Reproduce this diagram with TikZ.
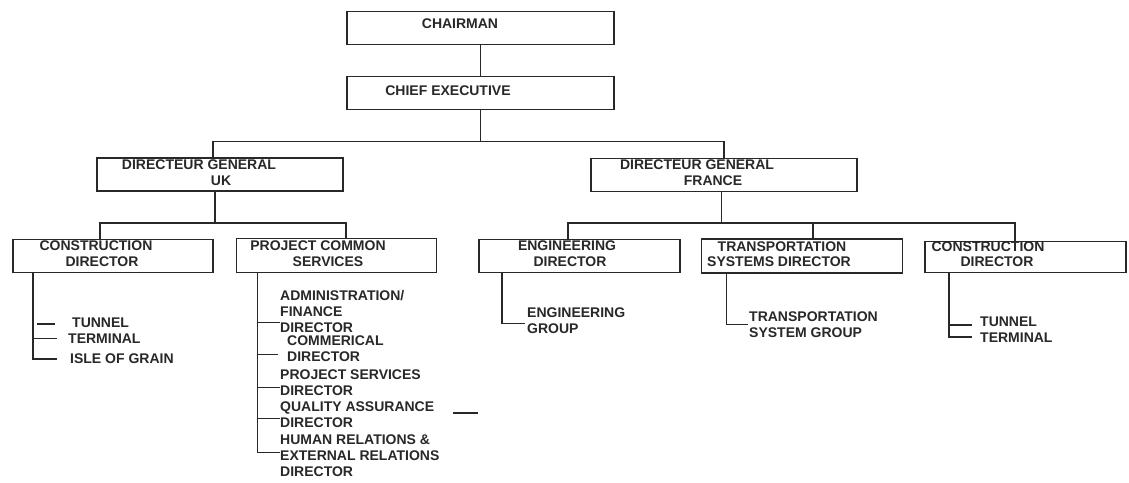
\documentclass[tikz,border=0pt]{standalone}
\usepackage{fontspec}
\setmainfont{Liberation Sans}
\usepackage{xcolor}
\usetikzlibrary{positioning, calc}
\definecolor{inkColor}{RGB}{40, 40, 40}
\newcommand{\orgfont}{\fontsize{14}{16}\selectfont\bfseries}

\begin{document}
\begin{tikzpicture}[x=1pt, y=-1pt,
    box/.style={draw=inkColor, line width=1.1pt, inner sep=0pt, outer sep=0pt, minimum height=33pt},
    lbl/.style={inner sep=0pt, text=inkColor, font=\orgfont, text height=10pt, text depth=0pt},
    item/.style={inner sep=0pt, text=inkColor, font=\orgfont, align=left, anchor=north west},
    wire/.style={draw=inkColor, line width=1.1pt}]
            \useasboundingbox (0,0) rectangle (1129,482);
            \fill[white] (0,0) rectangle (1129,482);

            % Top boxes
            \node[box, minimum width=267pt] at (480.5,28) (chair) {};
            \node[box, minimum width=267pt] at (480.5,93) (chief) {};
            \node[lbl] at (460,23.3) (chairT) {CHAIRMAN};
            \node[lbl] at (448,90.7) (chiefT) {CHIEF EXECUTIVE};

            % Directeur general boxes
            \node[box, minimum width=246pt] at (220,174.5) (dguk) {};
            \node[box, minimum width=266pt] at (724,175) (dgfr) {};
            \node[lbl] at (199,164) (dgukA) {DIRECTEUR GENERAL};
            \node[lbl] at (221,180) (dgukB) {UK};
            \node[lbl] at (697,164) (dgfrA) {DIRECTEUR GENERAL};
            \node[lbl] at (713,180) (dgfrB) {FRANCE};

            % Director boxes
            \node[box, minimum width=200pt] at (113,256) (consuk) {};
            \node[box, minimum width=200pt, minimum height=34pt] at (336.5,255.5) (pcs) {};
            \node[box, minimum width=201pt] at (579.5,256) (eng) {};
            \node[box, minimum width=201pt, minimum height=34pt] at (802,256) (trans) {};
            \node[box, minimum width=201pt, minimum height=31pt] at (1025.5,257) (consfr) {};
            \node[lbl] at (96,245) (consukA) {CONSTRUCTION};
            \node[lbl] at (102,261) (consukB) {DIRECTOR};
            \node[lbl] at (318,245) (pcsA) {PROJECT COMMON};
            \node[lbl] at (328,261.5) (pcsB) {SERVICES};
            \node[lbl] at (567,245) (engA) {ENGINEERING};
            \node[lbl] at (570,261.5) (engB) {DIRECTOR};
            \node[lbl] at (782,246) (transA) {TRANSPORTATION};
            \node[lbl] at (779,261.5) (transB) {SYSTEMS DIRECTOR};
            \node[lbl] at (988,246) (consfrA) {CONSTRUCTION};
            \node[lbl] at (997,261.5) (consfrB) {DIRECTOR};

            % Lines between boxes
            \coordinate (topbus) at (480.5,141.7);
            \draw[wire] (chair) -- (chief);
            \draw[wire] (chief) -- (topbus);
            \draw[wire] ([xshift=-7pt]dguk.north) |- (topbus) -| (dgfr.north);
            \coordinate (ukbus) at (215,223);
            \draw[wire] ([xshift=-5pt]dguk.south) -- (ukbus);
            \draw[wire] ([xshift=-13pt]consuk.north) |- (ukbus) -| ([xshift=9.5pt]pcs.north);
            \coordinate (frbus) at (721.7,223);
            \coordinate (transdrop) at (813,223);
            \draw[wire] ([xshift=-2.3pt]dgfr.south) -- (frbus);
            \draw[wire] ([xshift=-11.5pt]eng.north) |- (frbus) -| ([xshift=-10.5pt]consfr.north);
            \draw[wire] (trans.north -| transdrop) -- (transdrop);

            % UK construction items
            \node[lbl, anchor=west] at (72,322) (tunuk) {TUNNEL};
            \node[lbl, anchor=west] at (68,338.5) (termuk) {TERMINAL};
            \node[lbl, anchor=west] at (70,358) (isleuk) {ISLE OF GRAIN};
            \coordinate (consukv) at ([xshift=20pt]consuk.south west);
            \draw[wire] (consukv) |- ([xshift=-13pt,yshift=-1pt]isleuk.west);
            \draw[wire] (consukv) |- ([xshift=-11pt]termuk.west);
            \draw[wire] ([xshift=-35pt,yshift=-2pt]tunuk.west) -- ([xshift=-17pt,yshift=-2pt]tunuk.west);

            % Project common services items
            \node[item] at (280,290) (adm) {ADMINISTRATION/\\FINANCE\\DIRECTOR};
            \node[item] at (287,336) (com) {COMMERICAL\\DIRECTOR};
            \node[item] at (280,370) (psd) {PROJECT SERVICES\\DIRECTOR};
            \node[item] at (280,402) (qad) {QUALITY ASSURANCE\\DIRECTOR};
            \node[item] at (280,435) (hrd) {HUMAN RELATIONS \&\\EXTERNAL RELATIONS\\DIRECTOR};
            \coordinate (pcsv) at ([xshift=21pt]pcs.south west);
            \draw[wire] (pcsv) |- ([yshift=4pt]hrd.west);
            \foreach \n/\dx/\dy in {adm/0/10, com/-9/8, psd/0/9, qad/0/10}
                \draw[wire] (pcsv) |- ([xshift=\dx pt, yshift=\dy pt]\n.south west);
            \coordinate (qadmark) at (453,413);
            \draw[wire] (qadmark) -- ++(25pt,0);

            % Engineering and transportation items
            \node[item] at (527,308) (engg) {ENGINEERING\\GROUP};
            \draw[wire] ([xshift=23pt]eng.south west) |- ([xshift=-2pt,yshift=11pt]engg.south west);
            \node[item] at (749,312) (tsg) {TRANSPORTATION\\SYSTEM GROUP};
            \draw[wire] ([xshift=25pt]trans.south west) |- ([xshift=-1pt,yshift=14pt]tsg.south west);

            % France construction items
            \node[lbl, anchor=west] at (980,321) (tunfr) {TUNNEL};
            \node[lbl, anchor=west] at (980,337) (termfr) {TERMINAL};
            \coordinate (consfrv) at ([xshift=24pt]consfr.south west);
            \draw[wire] (consfrv) |- ([xshift=-8pt,yshift=-4pt]tunfr.west);
            \draw[wire] (consfrv) |- ([xshift=-8pt]termfr.west);
        \end{tikzpicture}
\end{document}
